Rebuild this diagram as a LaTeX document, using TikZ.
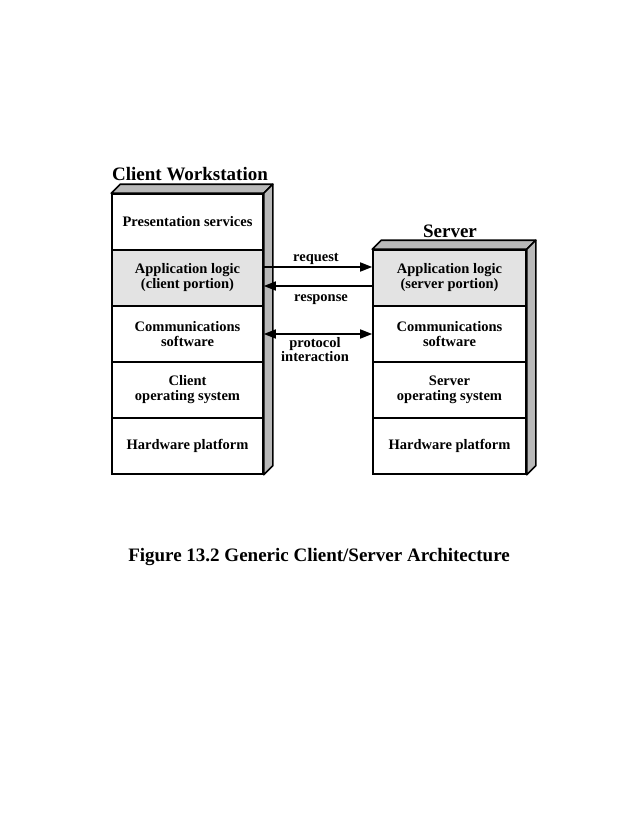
\documentclass[tikz,border=0pt]{standalone}
\usepackage{fontspec}
\setmainfont{Liberation Serif}
\usetikzlibrary{arrows.meta}
\begin{document}
\begin{tikzpicture}[x=1pt,y=-1pt,
  layer/.style={draw=black, line width=1.6pt, minimum height=56pt, align=center,
    font=\bfseries\fontsize{14.5}{15}\selectfont, inner sep=0pt},
  cl/.style={layer, minimum width=151pt},
  sv/.style={layer, minimum width=153pt},
  shaded/.style={fill=gray!22},
  face/.style={draw=black, line width=1.6pt, fill=gray!55, line join=round},
  arr/.style={line width=1.6pt, -{Triangle[length=12pt,width=9pt]}},
  darr/.style={line width=1.6pt, {Triangle[length=12pt,width=9pt]}-{Triangle[length=12pt,width=9pt]}},
  lbl/.style={font=\bfseries\fontsize{14.5}{14}\selectfont, align=center, inner sep=0pt},
  ttl/.style={font=\bfseries\fontsize{19}{21}\selectfont, inner sep=0pt}]
\useasboundingbox[fill=white] (0,0) rectangle (637,824);

% client stack
\node[cl] (cP) at (187.5,222) {Presentation services};
\node[cl,shaded] (cA) at (187.5,278) {Application logic\\(client portion)};
\node[cl] (cC) at (187.5,334) {Communications\\software};
\node[cl] (cO) at (187.5,390) {Client\\operating system};
\node[cl] (cH) at (187.5,446) {Hardware platform};
\draw[face] (cP.north west) -- ++(9,-9) -- ([shift={(9pt,9pt)}]cP.north east) -- (cP.north east) -- cycle;
\draw[face] (cP.north east) -- ++(9,-9) -- ([shift={(9pt,9pt)}]cH.south east) -- (cH.south east) -- cycle;

% server stack
\node[sv,shaded] (sA) at (449.5,278) {Application logic\\(server portion)};
\node[sv] (sC) at (449.5,334) {Communications\\software};
\node[sv] (sO) at (449.5,390) {Server\\operating system};
\node[sv] (sH) at (449.5,446) {Hardware platform};
\draw[face] (sA.north west) -- ++(9,-9) -- ([shift={(9pt,9pt)}]sA.north east) -- (sA.north east) -- cycle;
\draw[face] (sA.north east) -- ++(9,-9) -- ([shift={(9pt,9pt)}]sH.south east) -- (sH.south east) -- cycle;

% titles
\node[ttl] (tC) at (190,174) {Client Workstation};
\node[ttl] (tS) at (450,231) {Server};

% arrows
\draw[arr] ([yshift=11pt]cA.east) -- ([yshift=11pt]sA.west);
\draw[arr] ([yshift=-8pt]sA.west) -- ([yshift=-8pt]cA.east);
\draw[darr] (cC.east) -- (sC.west);
\node[lbl] (lreq) at (316,259) {request};
\node[lbl] (lres) at (321,300) {response};
\node[lbl] (lpro) at (315,350) {protocol\\interaction};

% caption
\node[ttl] (cap) at (319,557) {Figure 13.2 Generic Client/Server Architecture};
\end{tikzpicture}
\end{document}
